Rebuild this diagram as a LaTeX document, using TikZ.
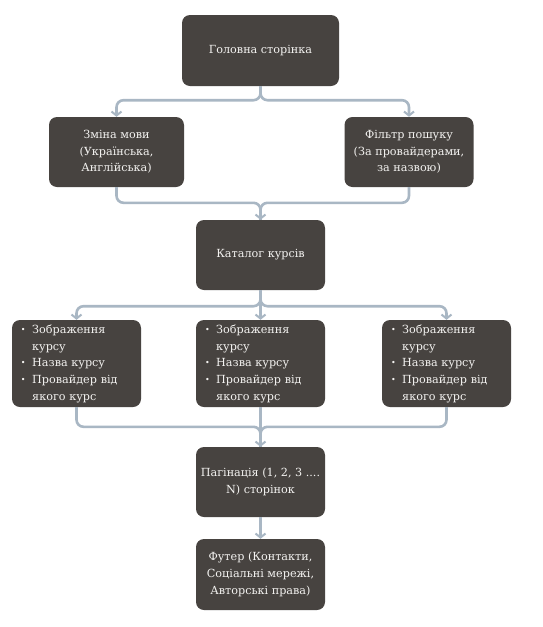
\documentclass[tikz,border=0pt]{standalone}
\usepackage{fontspec}
\setmainfont{DejaVu Serif}
\usetikzlibrary{arrows.meta,calc}
\definecolor{boxfill}{HTML}{474340}
\definecolor{boxtext}{HTML}{F4F3F1}
\definecolor{linkcol}{HTML}{A9B7C4}
\newcommand{\bul}{{\fontsize{8}{8}\selectfont\raisebox{1pt}{•}}}
\begin{document}
\begin{tikzpicture}[x=1pt,y=-1pt,
  box/.style={fill=boxfill, rounded corners=8pt, text=boxtext, inner sep=0pt,
    font=\fontsize{11.2}{16.7}\selectfont, align=center},
  listbox/.style={box, text width=129pt, minimum height=87pt, align=left},
  link/.style={draw=linkcol, line width=2.6pt, rounded corners=7pt,
    -{Straight Barb[length=4pt,width=10pt,line width=2pt]}},
  plain/.style={draw=linkcol, line width=2.6pt, rounded corners=7pt}]
\useasboundingbox[fill=white] (0,0) rectangle (542,627);
\node[box, minimum width=157pt, minimum height=71pt] (home) at (260.5,50.5) {Головна сторінка};
\node[box, minimum width=135pt, minimum height=70pt] (lang) at (116.5,152) {Зміна мови\\(Українська,\\Англійська)};
\node[box, minimum width=129pt, minimum height=70pt] (filt) at (409,152) {Фільтр пошуку\\(За провайдерами,\\за назвою)};
\node[box, minimum width=129pt, minimum height=70pt] (cat) at (260.5,255) {Каталог курсів};
\foreach \n/\x in {ca/76.5, cb/260.5, cc/446.5}{
  \node[listbox] (\n) at (\x,363.5) {\hspace*{9pt}%
    \begin{tabular}{@{}l@{\hspace{6.5pt}}l@{}}
    \bul & Зображення\\ & курсу\\ \bul & Назва курсу\\ \bul & Провайдер від\\ & якого курс
    \end{tabular}};
}
\node[box, minimum width=129pt, minimum height=70pt] (pag) at (260.5,482) {Пагінація (1, 2, 3 ....\\N) сторінок};
\node[box, minimum width=129pt, minimum height=71pt] (foot) at (260.5,574.5) {Футер (Контакти,\\Соціальні мережі,\\Авторські права)};
% home -> lang / filt
\draw[link] (home.south) -- ++(0,14) -| (lang.north);
\draw[link] (home.south) -- ++(0,14) -| (filt.north);
% lang / filt -> cat
\draw[plain] (lang.south) |- ($(cat.north)+(0,-17)$) -- (cat.north);
\draw[plain] (filt.south) |- ($(cat.north)+(0,-17)$) -- (cat.north);
\draw[link] ($(cat.north)+(0,-10)$) -- (cat.north);
% cat -> courses
\draw[link] (cat.south) -- ++(0,16) -| (ca.north);
\draw[link] (cat.south) -- (cb.north);
\draw[link] (cat.south) -- ++(0,16) -| (cc.north);
% courses -> pag
\draw[plain] (ca.south) |- ($(pag.north)+(0,-20)$) -- (pag.north);
\draw[plain] (cc.south) |- ($(pag.north)+(0,-20)$) -- (pag.north);
\draw[link] (cb.south) -- (pag.north);
% pag -> foot
\draw[link] (pag.south) -- (foot.north);
\end{tikzpicture}
\end{document}
